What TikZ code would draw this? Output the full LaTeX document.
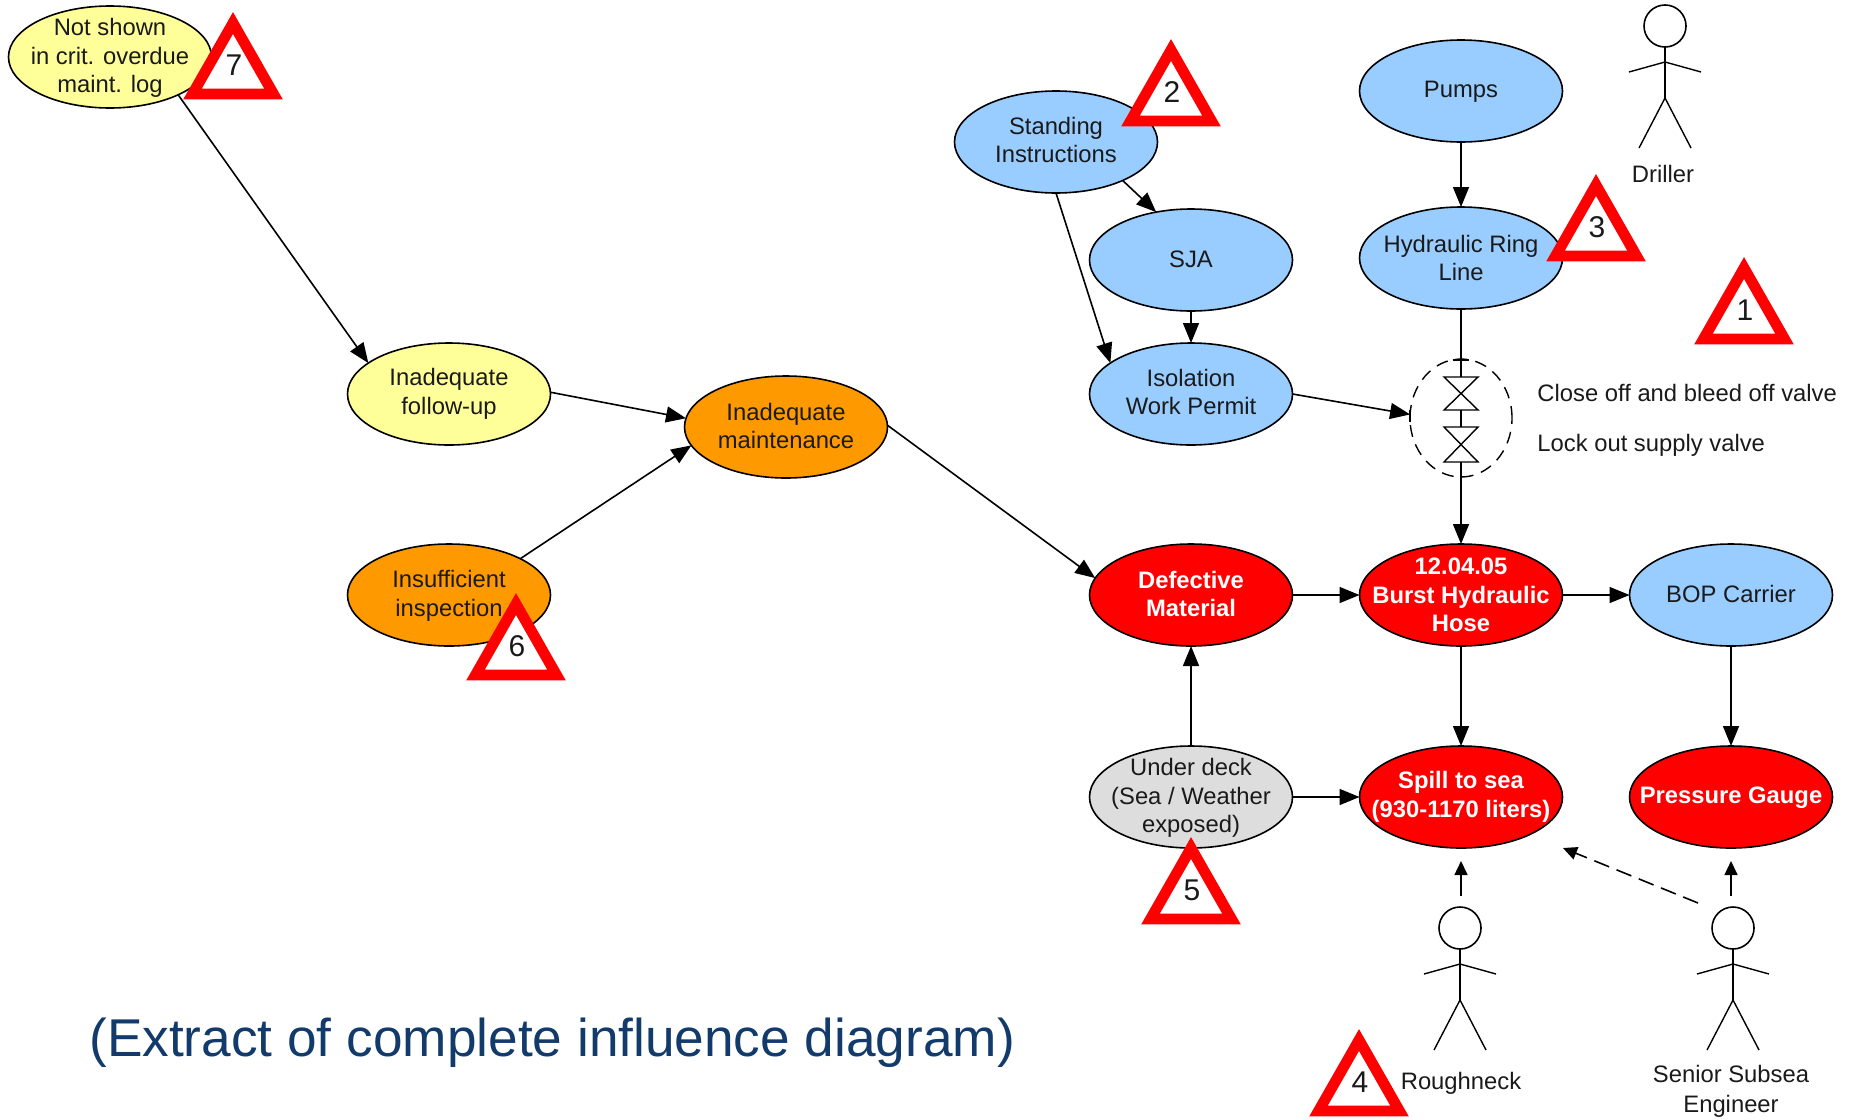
\documentclass[tikz,border=0pt]{standalone}
\usepackage{fontspec}
\setmainfont{Liberation Sans}
\usetikzlibrary{arrows.meta,shapes.geometric}
\definecolor{nblue}{HTML}{99CCFF}
\definecolor{nred}{HTML}{FF0000}
\definecolor{norange}{HTML}{FF9900}
\definecolor{nyellow}{HTML}{FFFF99}
\definecolor{ngray}{HTML}{DDDDDD}
\definecolor{capblue}{HTML}{123A6B}
\definecolor{inkc}{HTML}{1A1A1A}
\tikzset{
  ell/.style={ellipse,draw=black,line width=.8pt,inner sep=0pt,outer sep=0pt,minimum width=101.5pt,minimum height=51pt},
  txt/.style={align=center,font=\fontsize{11.9}{14.3}\selectfont,text=inkc,inner sep=0pt},
  wtxt/.style={align=center,font=\fontsize{11.9}{14.3}\selectfont\bfseries,text=white,inner sep=0pt},
  conn/.style={line width=.8pt,draw=black,-{Triangle[length=10pt,width=8pt]}},
  smallconn/.style={line width=.8pt,draw=black,-{Triangle[length=7pt,width=6.5pt]}},
  plainline/.style={line width=.7pt,draw=black},
  warnline/.style={draw=nred,fill=white,line width=5.4pt,line join=miter},
  warnnum/.style={font=\fontsize{15}{17}\selectfont,text=inkc,inner sep=0pt},
  plabel/.style={txt,anchor=west},
  headc/.style={circle,draw=black,line width=.8pt,fill=white,minimum size=21pt,inner sep=0pt,outer sep=0pt}
}
\newcommand{\elln}[7][0]{% dy name x y fill textstyle text
  \node[ell,fill=#5] (#2) at (#3,#4) {};
  \node[#6,yshift=-#1*.5pt] (#2-t) at (#3,#4) {#7};
}
\newcommand{\warnsign}[4]{%
  \begin{scope}[shift={(#2,#3)}]
    \draw[warnline] (0,9) -- (-40.5,80) -- (40.5,80) -- cycle;
    \node[warnnum] (#1) at (1,51) {#4};
  \end{scope}
}
\newcommand{\actor}[3]{%
  \begin{scope}[shift={(#2,#3)}]
    \node[headc] (#1-head) at (0,0) {};
    \coordinate (#1-arm) at (0,36);
    \coordinate (#1-hip) at (0,72);
    \coordinate (#1-la) at (-36,46);
    \coordinate (#1-ra) at (36,46);
    \coordinate (#1-lf) at (-26,122);
    \coordinate (#1-rf) at (26,122);
    \draw[plainline] (#1-head.south) -- (#1-hip);
    \draw[plainline] (#1-la) -- (#1-arm) -- (#1-ra);
    \draw[plainline] (#1-lf) -- (#1-hip) -- (#1-rf);
  \end{scope}
}
\begin{document}
\begin{tikzpicture}[x=.5pt,y=-.5pt]
\useasboundingbox (0,0) rectangle (1850,1119);
\fill[white] (0,0) rectangle (1850,1119);

\elln[1]{notshown}{110}{57}{nyellow}{txt}{Not shown\\in crit. overdue\\maint. log}
\elln[-2]{standing}{1056}{142}{nblue}{txt}{Standing\\Instructions}
\elln[1]{pumps}{1461}{91}{nblue}{txt}{Pumps}
\elln[-1]{sja}{1191}{260}{nblue}{txt}{SJA}
\elln{hydring}{1461}{258}{nblue}{txt}{Hydraulic Ring\\Line}
\elln[-2]{isolation}{1191}{394}{nblue}{txt}{Isolation\\Work Permit}
\elln{followup}{449}{394}{nyellow}{txt}{Inadequate\\follow-up}
\elln[-1]{maint}{786}{427}{norange}{txt}{Inadequate\\maintenance}
\elln[1]{insuff}{449}{595}{norange}{txt}{Insufficient\\inspection}
\elln[-1]{defective}{1191}{595}{nred}{wtxt}{Defective\\Material}
\elln{burst}{1461}{595}{nred}{wtxt}{12.04.05\\Burst Hydraulic\\Hose}
\elln[-1]{bop}{1731}{595}{nblue}{txt}{BOP Carrier}
\elln[1]{under}{1191}{797}{ngray}{txt}{Under deck\\(Sea / Weather\\exposed)}
\elln{spill}{1461}{797}{nred}{wtxt}{Spill to sea\\(930-1170 liters)}
\elln[1]{gauge}{1731}{797}{nred}{wtxt}{Pressure Gauge}

% valve group
\node[ellipse,draw=black,line width=.7pt,dash pattern=on 6pt off 4pt,minimum width=51pt,minimum height=59pt,inner sep=0pt,outer sep=0pt] (valve) at (1461,418) {};
\coordinate (v1a) at (1461,377);
\coordinate (v1b) at (1461,410);
\coordinate (v2a) at (1461,427);
\coordinate (v2b) at (1461,462);
\draw[plainline] (hydring.south) -- (v1a);
\draw[plainline] (v1b) -- (v2a);
\draw[plainline] (v2b) -- (valve.south);
\draw[plainline] (1444,377) -- (1478,377) -- (1444,410) -- (1478,410) -- cycle;
\draw[plainline] (1444,427) -- (1478,427) -- (1444,462) -- (1478,462) -- cycle;
\draw[plainline] (1453,360) -- (1469,360);
\draw[plainline] (1410,410) -- (1410,422);

% connectors
\draw[conn] (notshown.-29) -- (followup.159);
\draw[conn] (followup.1) -- (maint.175);
\draw[conn] (insuff.27) -- (maint.191);
\draw[conn] (maint.1) -- (defective.170);
\draw[conn] (standing.-30) -- (sja.126);
\draw[conn] (standing.south) -- (isolation.159);
\draw[conn] (sja.south) -- (isolation.north);
\draw[conn] (pumps.south) -- (hydring.north);
\draw[conn] (isolation.east) -- (valve.176);
\draw[conn] (valve.south) -- (burst.north);
\draw[conn] (defective.east) -- (burst.west);
\draw[conn] (burst.east) -- (bop.west);
\draw[conn] (burst.south) -- (spill.north);
\draw[conn] (bop.south) -- (gauge.north);
\draw[conn] (under.north) -- (defective.south);
\draw[conn] (under.east) -- (spill.west);

% actors
\actor{driller}{1665}{26}
\actor{roughneck}{1460}{928}
\actor{senior}{1733}{928}
\node[txt] (drillerlab) at (1663,174) {Driller};
\node[txt] (roughlab) at (1461,1083) {Roughneck};
\node[txt,font=\fontsize{11.9}{15}\selectfont] (seniorlab) at (1731,1091) {Senior Subsea\\Engineer};

\coordinate (ra) at (1461,896);
\coordinate (rb) at (1461,861);
\coordinate (sa) at (1731,896);
\coordinate (sb) at (1731,861);
\coordinate (da) at (1698,903);
\coordinate (db) at (1563,848);
\draw[smallconn] (ra) -- (rb);
\draw[smallconn] (sa) -- (sb);
\draw[smallconn,dash pattern=on 8pt off 4pt] (da) -- (db);

\node[plabel] (closeoff) at (1537,393) {Close off and bleed off valve};
\node[plabel] (lockout) at (1537,445) {Lock out supply valve};

\warnsign{w7}{233}{14}{7}
\warnsign{w2}{1171}{41}{2}
\warnsign{w3}{1596}{176}{3}
\warnsign{w1}{1744}{259}{1}
\warnsign{w6}{516}{595}{6}
\warnsign{w5}{1191}{839}{5}
\warnsign{w4}{1359}{1031}{4}

\node[anchor=west,inner sep=0pt,font=\fontsize{26.6}{30}\selectfont,text=capblue] (caption) at (89,1043) {(Extract of complete influence diagram)};
\end{tikzpicture}
\end{document}
